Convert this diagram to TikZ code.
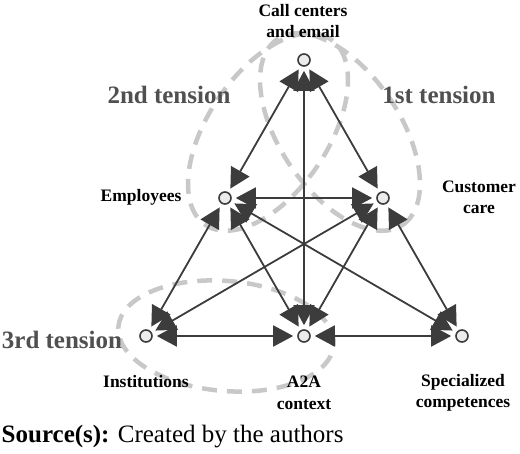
\documentclass[tikz,border=0pt]{standalone}
\usepackage{fontspec}
\setmainfont{Liberation Serif}
\usetikzlibrary{arrows.meta}
\definecolor{edgegray}{HTML}{3C3C3C}
\definecolor{ringgray}{HTML}{C8C8C8}
\definecolor{tensiontext}{HTML}{505050}
\tikzset{
  actor/.style = {circle, draw=edgegray, fill=gray!15, line width=1.6pt,
    inner sep=0pt, minimum size=12pt},
  link/.style = {{Triangle[length=20pt,width=21pt]}-{Triangle[length=20pt,width=21pt]},
    draw=edgegray, line width=1.8pt, shorten >=4pt, shorten <=4pt},
  tensionring/.style = {draw=ringgray, line width=4.5pt, dash pattern=on 15pt off 10pt},
  actorlabel/.style = {font=\bfseries\fontsize{17.5}{21.5}\selectfont, align=center, inner sep=0pt},
  tensionlabel/.style = {font=\bfseries\fontsize{25}{30}\selectfont, text=tensiontext, inner sep=0pt},
}

\begin{document}
\begin{tikzpicture}[x=1pt,y=1pt]
  \pgfmathsetmacro{\dx}{79};
  \pgfmathsetmacro{\dy}{138};
  \pgfmathsetmacro{\base}{117};
  \useasboundingbox (0,0) rectangle (520,453);
  % tensions
  \draw[tensionring,rotate around={56:(268,321)}] (268,321) ellipse (112pt and 60pt);
  \draw[tensionring,rotate around={-56:(340,321)}] (340,321) ellipse (112pt and 60pt);
  \draw[tensionring,rotate around={-5:(226,\base)}] (226,\base) ellipse (108pt and 55pt);
  % actors
  \node[actor] (cc) at (304,{\base+2*\dy}) {};
  \node[actor] (emp) at ({304-\dx},{\base+\dy}) {};
  \node[actor] (care) at ({304+\dx},{\base+\dy}) {};
  \node[actor] (inst) at ({304-2*\dx},\base) {};
  \node[actor] (ctx) at (304,\base) {};
  \node[actor] (comp) at ({304+2*\dx},\base) {};
  % links
  \foreach \a/\b in {cc/emp,cc/care,cc/ctx,emp/care,emp/inst,emp/ctx,emp/comp,
                     care/inst,care/ctx,care/comp,inst/ctx,ctx/comp} {%
    \draw[link] (\a) -- (\b);
  }
  % labels
  \node[actorlabel] (cclabel) at (303,432) {Call centers\\and email};
  \node[actorlabel] (emplabel) at (141,256) {Employees};
  \node[actorlabel] (carelabel) at (479,255.5) {Customer\\care};
  \node[actorlabel] (instlabel) at (146,71.5) {Institutions};
  \node[actorlabel] (ctxlabel) at (304,60) {A2A\\context};
  \node[actorlabel] (complabel) at (463,60) {Specialized\\competences};
  \node[tensionlabel] (first) at (439,358) {1st tension};
  \node[tensionlabel] (second) at (169,358) {2nd tension};
  \node[tensionlabel] (third) at (62,113) {3rd tension};
  %
  \node[anchor=west,inner sep=0pt,font=\fontsize{25}{30}\selectfont] (source) at (1.5,16) {\textbf{Source(s):} Created by the authors};
\end{tikzpicture}
\end{document}
